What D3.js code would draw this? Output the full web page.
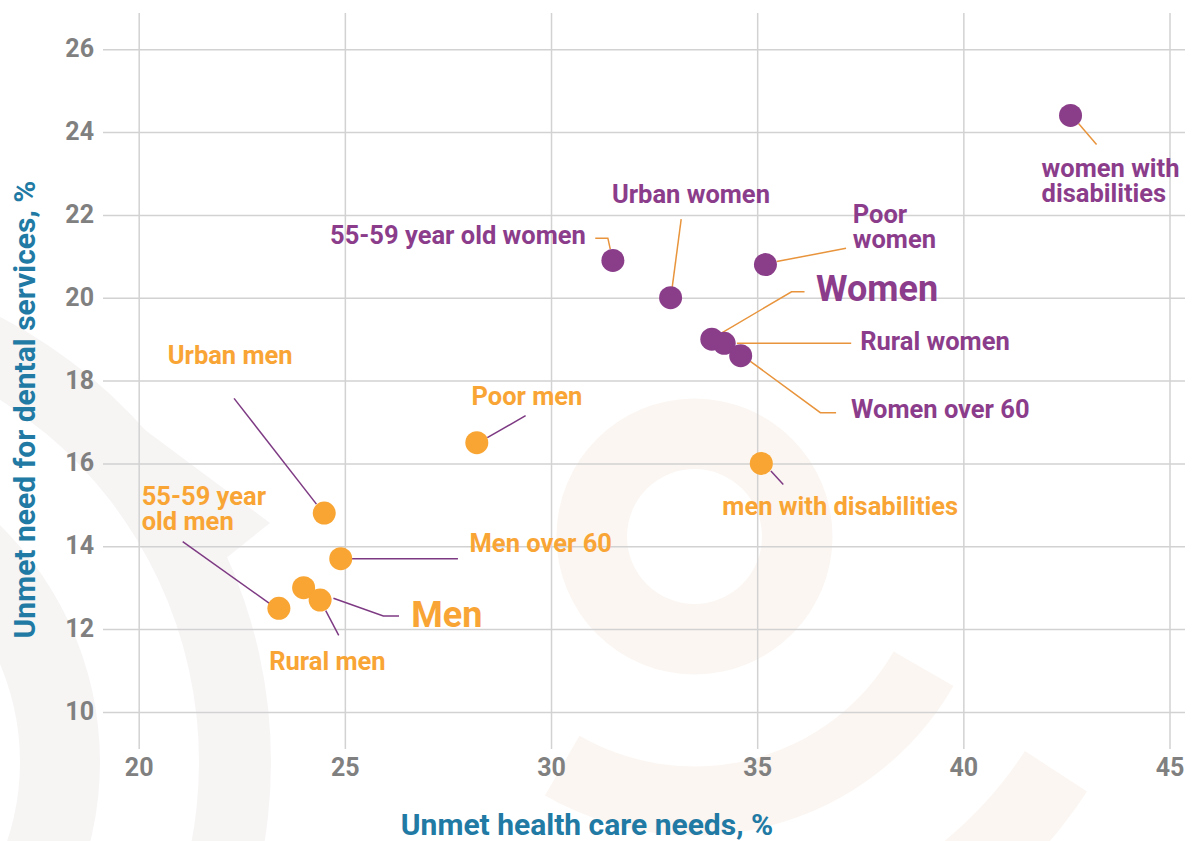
<!DOCTYPE html>
<html>
<head>
<meta charset="utf-8">
<script src="https://cdn.jsdelivr.net/npm/d3@7"></script>
<style>
  body { margin: 0; background: #fff; }
  svg { display: block; }
  text { font-family: Roboto, "Noto Sans", sans-serif; font-weight: 700; }
</style>
</head>
<body>
<svg id="chart" width="1192" height="841"></svg>
<script>
// ---- data ----
const groupNames = [
  "women with disabilities", "55-59 year old women", "Urban women", "Poor women",
  "Women", "Rural women", "Women over 60",
  "Urban men", "Poor men", "55-59 year old men", "Men over 60", "Men", "Rural men",
  "men with disabilities"
];
const groupSex = ["f", "f", "f", "f", "f", "f", "f", "m", "m", "m", "m", "m", "m", "m"];
// unmet health care needs, %
const healthNeeds = [42.6, 31.5, 32.9, 35.2, 33.9, 34.2, 34.6, 24.5, 28.2, 23.4, 24.9, 24.0, 24.4, 35.1];
// unmet need for dental services, %
const dentalNeeds = [24.4, 20.9, 20.0, 20.8, 19.0, 18.9, 18.6, 14.8, 16.5, 12.5, 13.7, 13.0, 12.7, 16.0];
// label text as it is broken into lines
const labelLines = [
  ["women with", "disabilities"], ["55-59 year old women"], ["Urban women"], ["Poor", "women"],
  ["Women"], ["Rural women"], ["Women over 60"],
  ["Urban men"], ["Poor men"], ["55-59 year", "old men"], ["Men over 60"], ["Men"], ["Rural men"],
  ["men with disabilities"]
];
const xTicks = [20, 25, 30, 35, 40, 45];
const yTicks = [10, 12, 14, 16, 18, 20, 22, 24, 26];
const xTitle = "Unmet health care needs, %";
const yTitle = "Unmet need for dental services, %";

// ---- layout ----
const W = 1192, H = 841;
const colors = {
  f: { dot: "#8a3e8a", text: "#8b3d8b", leader: "#e8943c" },
  m: { dot: "#f9a533", text: "#f8a535", leader: "#7d3a83" }
};
// label offsets from the dot centre, and leader polylines (px)
const labelLayout = [
  { dx: -29, dy: 62, anchor: "start", big: false, leader: [[8, 8], [26, 29]] },
  { dx: -27, dy: -16, anchor: "end", big: false, leader: [[-17.6, -22.3], [-5, -22.3], [-2.6, -11.3]] },
  { dx: -58.7, dy: -94.6, anchor: "start", big: false, leader: [[10.6, -78.6], [1.6, -10.3]] },
  { dx: 87.3, dy: -41.3, anchor: "start", big: false, leader: [[80.6, -16.3], [11.3, -3]] },
  { dx: 104.2, dy: -38, anchor: "start", big: true, leader: [[92.7, -47.3], [79.7, -47.3], [10.4, -6.6]] },
  { dx: 136, dy: 6.6, anchor: "start", big: false, leader: [[127, 0], [12.7, 0]] },
  { dx: 110.4, dy: 62, anchor: "start", big: false, leader: [[95.4, 57], [79.7, 57], [9.7, 5.6]] },
  { dx: -156.5, dy: -148.7, anchor: "start", big: false, leader: [[-90.2, -114.7], [-7.8, -9]] },
  { dx: -5.3, dy: -37.6, anchor: "start", big: false, leader: [[48.8, -27], [10.5, -5]] },
  { dx: -137.2, dy: -103.3, anchor: "start", big: false, leader: [[-96.2, -66.7], [-9.5, -5]] },
  { dx: 128.8, dy: -6.7, anchor: "start", big: false, leader: [[117.2, 0], [11.3, 0]] },
  { dx: 107.7, dy: 39, anchor: "start", big: true, leader: [[95.4, 28.3], [79.7, 28.3], [29.8, 10.6]] },
  { dx: -50.9, dy: 69.6, anchor: "start", big: false, leader: [[18.6, 35.3], [5.6, 10.6]] },
  { dx: -39, dy: 52, anchor: "start", big: false, leader: [[9.6, 7.7], [22, 21]] }
];

const svg = d3.select("#chart");

const x = d3.scaleLinear().domain([20, 45]).range([138.7, 1169.5]);
const y = d3.scaleLinear().domain([10, 26]).range([711.9, 49.2]);

// ---- faint background ornaments ----
const deco = svg.append("g").attr("class", "ornament");
const deg = Math.PI / 180;
const beige = "#fbf6f2", grey = "#f7f4f4";
const arc = d3.arc();
const warmCentre = [694.5, 536.5];
[[67.5, 138, 0, 360], [230, 299, 120, 210], [394, 468, 123, 210]].forEach(([ri, ro, a0, a1]) => {
  deco.append("path")
    .attr("transform", `translate(${warmCentre})`)
    .attr("d", arc({ innerRadius: ri, outerRadius: ro, startAngle: a0 * deg, endAngle: a1 * deg }))
    .attr("fill", beige);
});
const coolCentre = [-230, 762];
[[429, 501], [250, 330]].forEach(([ri, ro]) => {
  deco.append("path")
    .attr("transform", `translate(${coolCentre})`)
    .attr("d", arc({ innerRadius: ri, outerRadius: ro, startAngle: -10 * deg, endAngle: 190 * deg }))
    .attr("fill", grey);
});
deco.append("path")
  .attr("d", d3.line()([[0, 322], [270, 523], [220, 563], [0, 399]]) + "Z")
  .attr("fill", grey);

// ---- axes & grid ----
const gridColor = "#d2d2d2", tickColor = "#808080";

const yAxis = svg.append("g")
  .attr("transform", "translate(103,0)")
  .call(d3.axisLeft(y).tickValues(yTicks).tickSize(-(1185 - 103)).tickPadding(9).tickFormat(d3.format("d")));
const xAxis = svg.append("g")
  .attr("transform", "translate(0,749)")
  .call(d3.axisBottom(x).tickValues(xTicks).tickSize(-(749 - 13)).tickPadding(9).tickFormat(d3.format("d")));

[xAxis, yAxis].forEach(g => {
  g.select(".domain").remove();
  g.selectAll(".tick line").attr("stroke", gridColor).attr("stroke-width", 1.5);
  g.selectAll(".tick text")
    .attr("fill", tickColor)
    .style("font-size", "25px")
    .style("font-family", "Roboto, sans-serif")
    .style("font-weight", 700);
});
yAxis.selectAll(".tick text").attr("dy", "0.3em");

svg.append("text")
  .attr("x", 587).attr("y", 835)
  .attr("text-anchor", "middle")
  .attr("fill", "#217aa4")
  .style("font-size", "30px")
  .text(xTitle);

svg.append("text")
  .attr("transform", "translate(35,409.5) rotate(-90)")
  .attr("text-anchor", "middle")
  .attr("fill", "#217aa4")
  .style("font-size", "30px")
  .text(yTitle);

// ---- points, leaders, labels ----
const pts = groupNames.map((name, i) => ({
  name, sex: groupSex[i], cx: x(healthNeeds[i]), cy: y(dentalNeeds[i]),
  lines: labelLines[i], lay: labelLayout[i]
}));

svg.append("g").selectAll("path")
  .data(pts)
  .join("path")
  .attr("d", d => d3.line()(d.lay.leader.map(([a, b]) => [d.cx + a, d.cy + b])))
  .attr("fill", "none")
  .attr("stroke", d => colors[d.sex].leader)
  .attr("stroke-width", 1.5);

svg.append("g").selectAll("circle")
  .data(pts)
  .join("circle")
  .attr("cx", d => d.cx)
  .attr("cy", d => d.cy)
  .attr("r", 11.5)
  .attr("fill", d => colors[d.sex].dot);

const labels = svg.append("g").selectAll("text")
  .data(pts)
  .join("text")
  .attr("x", d => d.cx + d.lay.dx)
  .attr("y", d => d.cy + d.lay.dy)
  .attr("text-anchor", d => d.lay.anchor)
  .attr("fill", d => colors[d.sex].text)
  .style("font-size", d => d.lay.big ? "36px" : "25.5px");

labels.selectAll("tspan")
  .data(d => d.lines.map((t, k) => ({ t, k, x: d.cx + d.lay.dx })))
  .join("tspan")
  .attr("x", d => d.x)
  .attr("dy", d => d.k === 0 ? 0 : 25)
  .text(d => d.t);
</script>
</body>
</html>
